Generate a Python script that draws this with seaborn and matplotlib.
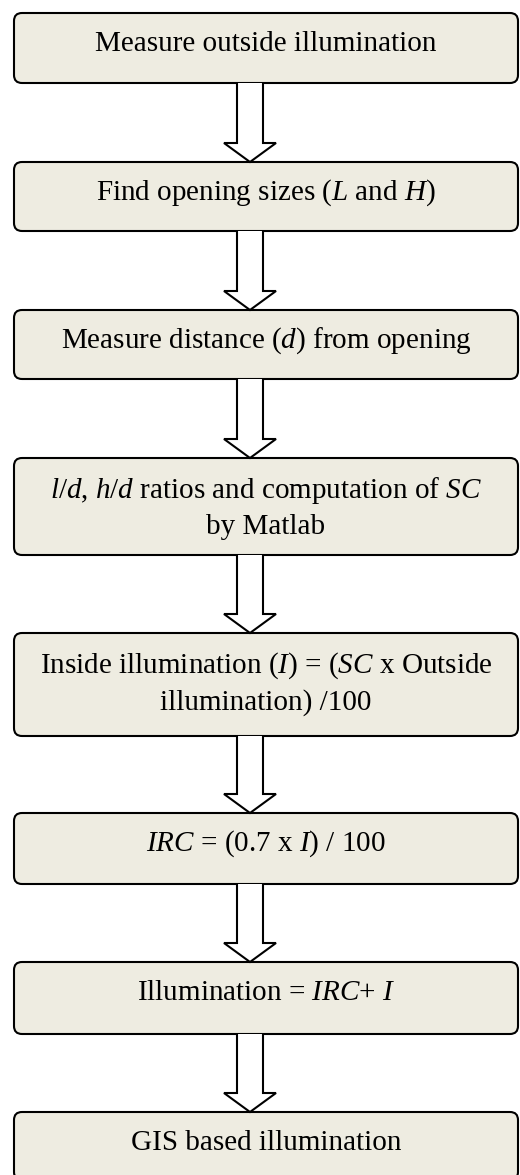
import matplotlib
matplotlib.use("Agg")
import matplotlib.pyplot as plt
import seaborn as sns
from matplotlib.patches import FancyBboxPatch, Polygon

# Pasos del diagrama de flujo
steps = [
    "Measure outside illumination",
    "Find opening sizes ($L$ and $H$)",
    "Measure distance ($d$) from opening",
    "$l/d$, $h/d$ ratios and computation of $SC$\nby Matlab",
    "Inside illumination ($I$) = ($SC$ x Outside\nillumination) /100",
    "$IRC$ = (0.7 x $I$) / 100",
    "Illumination = $IRC$+ $I$",
    "GIS based illumination",
]
# Bordes superior e inferior de cada caja (px)
box_top = [13, 162, 310, 458, 633, 813, 962, 1112]
box_bottom = [83, 231, 379, 555, 736, 884, 1034, 1180]

sns.set_theme(style="white")
plt.rcParams["font.family"] = ["Liberation Serif", "DejaVu Serif"]
plt.rcParams["mathtext.fontset"] = "custom"
plt.rcParams["mathtext.rm"] = "Liberation Serif"
plt.rcParams["mathtext.it"] = "Liberation Serif:italic"

fig = plt.figure(figsize=(5.2, 11.75), dpi=100)
ax = fig.add_axes([0, 0, 1, 1])
ax.set_xlim(0, 520)
ax.set_ylim(1175, 0)
ax.axis("off")

x0, x1 = 14, 518
fill = "#EEECE1"
for label, top, bot in zip(steps, box_top, box_bottom):
    ax.add_patch(FancyBboxPatch((x0, top), x1 - x0, bot - top,
                                boxstyle="round,pad=0,rounding_size=8",
                                facecolor=fill, edgecolor="black", linewidth=1.5))
    nlines = label.count("\n") + 1
    yc = top + (31 if nlines == 1 else 50)
    ax.text(266, yc, label, ha="center", va="center", fontsize=21,
            linespacing=1.4, color="black")

# Flechas de bloque entre cajas
cx, sw, hw, hl = 250, 13, 26, 19
for bot, nxt in zip(box_bottom[:-1], box_top[1:]):
    hy = nxt - hl
    pts = [(cx - sw, bot), (cx - sw, hy), (cx - hw, hy), (cx, nxt),
           (cx + hw, hy), (cx + sw, hy), (cx + sw, bot)]
    ax.add_patch(Polygon(pts, closed=False, facecolor="white",
                         edgecolor="black", linewidth=1.5, joinstyle="miter"))

fig.savefig("out.png", dpi=100)
